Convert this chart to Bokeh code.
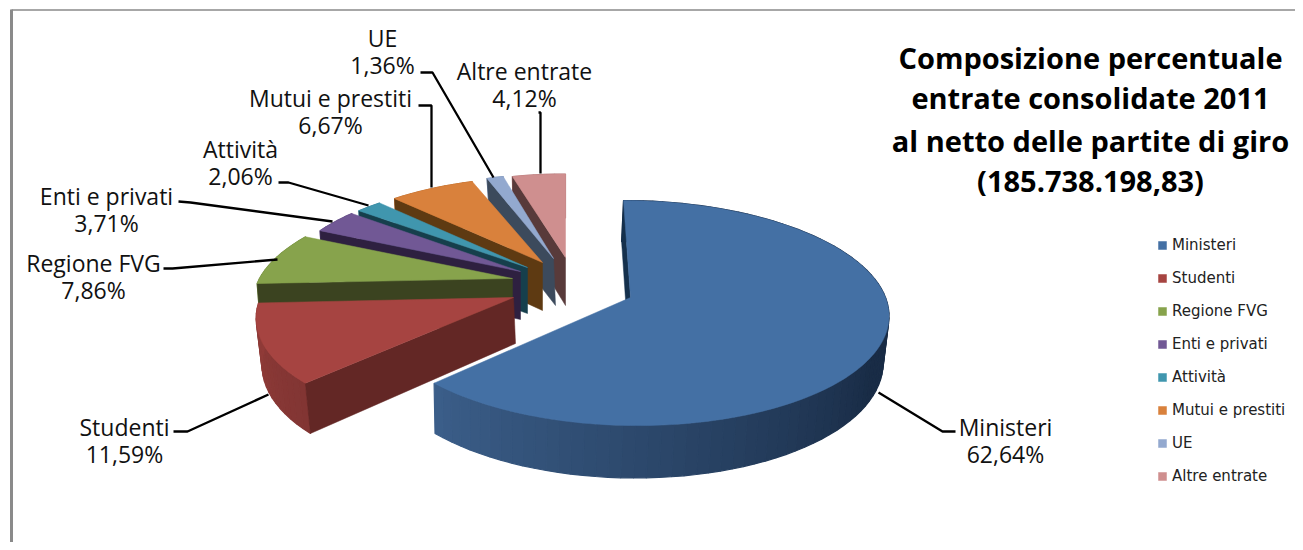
import numpy as np
from bokeh.plotting import figure
from bokeh.models import Range1d, Legend, LegendItem
from bokeh.core.properties import value
from bokeh.embed import file_html
from bokeh.resources import INLINE

# ---- data ----
categories = ["Ministeri", "Studenti", "Regione FVG", "Enti e privati", "Attività",
              "Mutui e prestiti", "UE", "Altre entrate"]
percent = [62.64, 11.59, 7.86, 3.71, 2.06, 6.67, 1.36, 4.12]
percent_labels = ["62,64%", "11,59%", "7,86%", "3,71%", "2,06%", "6,67%", "1,36%", "4,12%"]
title_lines = ["Composizione percentuale", "entrate consolidate 2011",
               "al netto delle partite di giro", "(185.738.198,83)"]

# ---- style / layout ----
top_colors = ["#4470a4", "#a64441", "#87a34c", "#715895", "#4096ae", "#d9813c", "#93a9cf", "#cf8f8f"]
face_colors = ["#15304c", "#632725", "#3b4320", "#2e2040", "#163f4c", "#5e3a12", "#3c4a5c", "#583a3a"]
# explosion layout: apex x, apex y, x scale, y scale, shear
apex_x = [630, 513, 512, 520, 527, 542, 553, 565]
apex_y = [297, 297, 278, 271, 267, 262, 258, 257]
k_x = [1.008, 1.0, 1.0, 0.93, 0.93, 0.93, 0.88, 0.93]
k_y = [1.0, 1.0, 0.93, 0.91, 0.89, 0.88, 0.87, 0.86]
shear = [7, -12, -20, 0, 0, 0, 0, 0]
drop_x = [-2, 2, 0, 0, 0, 0, 2, 0]
drop_y = [46, 46, 48, 48, 46, 48, 47, 48]
RX, RY, PERSP = 253.0, 110.4, 0.138
KXB, KYB = 0.985, 1.05

label_x = [1005, 124, 93, 106, 240, 330, 382, 524]
label_y = [426, 426, 262, 195, 148, 97, 37, 70]
leader_x = [[955, 942, 878], [173, 187, 268], [163, 172, 277], [178, 190, 332],
            [278, 288, 368], [418, 431, 431], [420, 432, 493], [538, 540, 540]]
leader_y = [[431, 431, 392], [431, 431, 394], [268, 268, 259], [201, 202, 221],
            [182, 182, 205], [105, 105, 187], [72, 72, 177], [112, 112, 173]]

W, H = 1295, 542
p = figure(width=W, height=H, output_backend="svg", toolbar_location=None,
           x_range=Range1d(0, W), y_range=Range1d(H, 0),
           x_axis_type=None, y_axis_type=None, min_border=0)
p.outline_line_color = None
p.grid.visible = False
p.background_fill_color = "white"


def proj(th, i, bottom=False):
    a, b = np.sin(th), -np.cos(th)
    sc = 1.0 / (1.0 - PERSP * b)
    x = k_x[i] * RX * a * sc + shear[i] * b
    y = k_y[i] * RY * b * sc
    if bottom:
        return apex_x[i] + drop_x[i] + KXB * x, apex_y[i] + drop_y[i] + KYB * y
    return apex_x[i] + x, apex_y[i] + y


def mix(c1, c2, t):
    v1 = [int(c1[j:j + 2], 16) for j in (1, 3, 5)]
    v2 = [int(c2[j:j + 2], 16) for j in (1, 3, 5)]
    return "#%02x%02x%02x" % tuple(int(round(u + (w - u) * t)) for u, w in zip(v1, v2))


# frame
p.line([11, 11], [9, H], line_color="#8a8a8a", line_width=3)
p.line([11, W], [9.5, 9.5], line_color="#8a8a8a", line_width=1.5)

cum = np.concatenate([[0], np.cumsum(percent)]) / sum(percent) * 2 * np.pi
tops = {}
for i in range(len(percent) - 1, -1, -1):
    t0, t1 = cum[i], cum[i + 1]
    # rim
    n = max(int((t1 - t0) / np.radians(2.5)), 2)
    ths = np.linspace(t0, t1, n + 1)
    rx, ry, rc = [], [], []
    for a0, a1 in zip(ths[:-1], ths[1:]):
        xa, ya = proj(a0, i); xc, yc = proj(a1, i)
        xab, yab = proj(a0, i, True); xcb, ycb = proj(a1, i, True)
        rx.append([xa, xc, xcb, xab]); ry.append([ya, yc, ycb, yab])
        mid = np.degrees((a0 + a1) / 2)
        if i == 0:
            t = np.clip((225 - mid) / 105.0, 0, 1)
            rc.append(mix("#3b5e89", "#192c46", t))
        else:
            t = np.clip((mid - 225) / 45.0, 0, 1)
            rc.append(mix(mix(top_colors[i], "#000000", 0.22), mix(top_colors[i], "#000000", 0.12), t))
    p.patches(rx, ry, fill_color=rc, line_color=rc, line_width=1.2)
    # cut face at the start of the slice
    x0, y0 = proj(t0, i)
    xb, yb = proj(t0, i, True)
    p.patch([apex_x[i], x0, xb, apex_x[i] + drop_x[i]],
            [apex_y[i], y0, yb, apex_y[i] + drop_y[i]],
            fill_color=face_colors[i], line_color=face_colors[i], line_width=0.5)
    # top surface
    ths = np.linspace(t0, t1, max(int((t1 - t0) / np.radians(1)), 3) + 1)
    xs, ys = proj(ths, i)
    tops[i] = p.patch([apex_x[i]] + list(xs), [apex_y[i]] + list(ys),
                      fill_color=top_colors[i], line_color=top_colors[i], line_width=0.5)

# leaders
p.multi_line(leader_x, leader_y, line_color="black", line_width=2.3)

# data labels
font = value("Open Sans")
p.text(label_x, label_y, text=categories, text_font=font, text_font_size="23px",
       text_align="center", text_baseline="middle", text_color="#111111")
p.text(label_x, [y + 27 for y in label_y], text=percent_labels, text_font=font, text_font_size="23px",
       text_align="center", text_baseline="middle", text_color="#111111")

# title
p.text([1090] * 4, [57, 97, 140, 180], text=title_lines, text_font=font, text_font_size="29px",
       text_font_style="bold", text_align="center", text_baseline="middle", text_color="black")

# legend
legend = Legend(items=[LegendItem(label=c, renderers=[tops[i]]) for i, c in enumerate(categories)],
                location=(1157, H - 485), orientation="vertical",
                border_line_color=None, background_fill_alpha=0,
                glyph_width=10, glyph_height=10, label_height=16,
                label_text_font="DejaVu Sans", label_text_font_size="15px",
                label_text_color="#222222", spacing=15, padding=0, margin=0,
                label_standoff=5, click_policy="none")
p.add_layout(legend, "center")

open("out.html", "w").write(file_html(p, INLINE))
